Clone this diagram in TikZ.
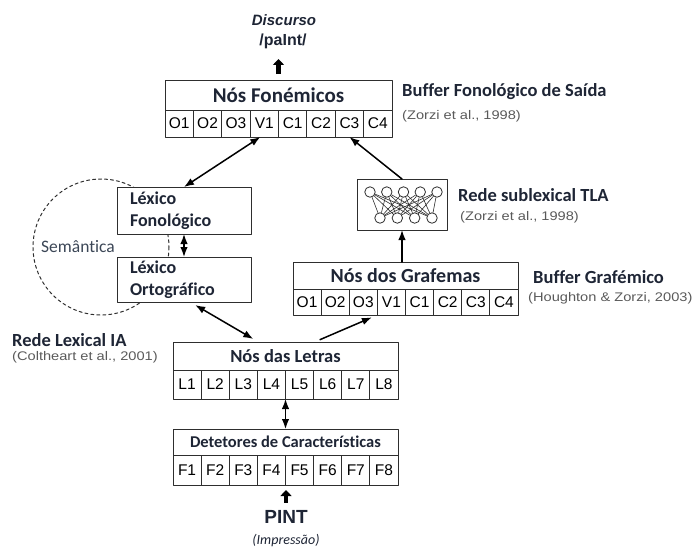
\documentclass[tikz,border=0pt]{standalone}
\usepackage{fontspec}
\setmainfont{Carlito}[Ligatures=NoCommon]
\newfontfamily\arialfont{Liberation Sans}
\newfontfamily\citefont{Liberation Sans}[FakeStretch=1.17]
\usetikzlibrary{arrows.meta}
\definecolor{drInk}{HTML}{1E2535}
\definecolor{drRef}{HTML}{5A5A5A}
\definecolor{drLine}{HTML}{2E2E2E}
\definecolor{drSem}{HTML}{3B4656}
\tikzset{
  dr diagram/.style={text=drInk, line cap=round, line join=round},
  dr box/.style={draw=drLine, fill=white, line width=0.9pt, inner sep=0pt,
    outer sep=0pt, font=\fontsize{20}{23}\selectfont\bfseries},
  dr cell/.style={dr box, font=\arialfont\fontsize{15.5}{18}\selectfont, text=black},
  dr lexbox/.style={dr box, align=left, text width=108pt, inner xsep=13pt,
    font=\fontsize{18}{22}\selectfont\bfseries},
  dr title/.style={anchor=west, inner sep=0pt, font=\fontsize{18.5}{21}\selectfont\bfseries},
  dr cite/.style={anchor=west, inner sep=0pt, text=drRef,
    font=\citefont\fontsize{12.5}{15}\selectfont},
  dr arrow/.style={-{Latex[length=10pt,width=7.5pt]}, draw=black, line width=1.5pt},
  dr both/.style={dr arrow, {Latex[length=10pt,width=7.5pt]}-{Latex[length=10pt,width=7.5pt]}},
  dr block/.style={-{Triangle[length=6pt,width=11pt]}, line width=4.5pt, line cap=butt},
  dr semantic/.style={draw=drLine, dashed, line width=1pt},
  dr unit/.style={circle, draw=drLine, fill=white, line width=0.8pt,
    minimum size=10.5pt, inner sep=0pt},
  dr link/.style={draw=drLine, line width=0.6pt}
}
\begin{document}
\begin{tikzpicture}[dr diagram,x=1pt,y=-1pt]
\useasboundingbox (0,0) rectangle (695,550);
% semantic loop behind the lexicons
\draw[dr semantic] (101,247) circle (68);
\node[font=\fontsize{17.5}{20}\selectfont, text=drSem] (semantica) at (78,247) {Semântica};

% output: phonemic buffer
\node[font=\arialfont\fontsize{15}{18}\selectfont\bfseries\itshape] (discurso) at (284,20) {Discurso};
\node[font=\arialfont\fontsize{16}{18}\selectfont\bfseries] (palnt) at (283,41) {/paInt/};
\node[dr box, minimum width=227pt, minimum height=30pt, font=\fontsize{21}{24}\selectfont\bfseries]
  (fon) at (278.5,95) {Nós Fonémicos};
\foreach \lbl [count=\i] in {O1,O2,O3,V1,C1,C2,C3,C4}
  \node[dr cell, minimum width=28.375pt, minimum height=27pt] (fon-\i)
    at ({165+28.375*(\i-0.5)},123.5) {\lbl};
\node[dr title] (buffon) at (402,92) {Buffer Fonológico de Saída};
\node[dr cite] (zorzi1) at (402,116) {(Zorzi et al., 1998)};

% lexical route
\node[dr lexbox, minimum height=47pt] (lexfon) at (184,210.5) {Léxico\\Fonológico};
\node[dr lexbox, minimum height=45pt] (lexort) at (184,279.5) {Léxico\\Ortográfico};
\node[dr title] (redeia) at (12,340) {Rede Lexical IA};
\node[dr cite] (coltheart) at (12,357) {(Coltheart et al., 2001)};

% sublexical route
\node[dr box, minimum width=90pt, minimum height=51pt] (tla) at (402,204.5) {};
\foreach \i in {1,...,5}
  \node[dr unit] (up-\i) at ({370+16.75*(\i-1)},192) {};
\foreach \j in {1,...,4}
  \node[dr unit] (dn-\j) at ({380+17.33*(\j-1)},218) {};
\foreach \i in {1,...,5}
  \foreach \j in {1,...,4}
    \draw[dr link] (up-\i) -- (dn-\j);
\node[dr title] (redetla) at (458,195) {Rede sublexical TLA};
\node[dr cite] (zorzi2) at (460,217) {(Zorzi et al., 1998)};

\node[dr box, minimum width=225pt, minimum height=27pt] (graf) at (405.5,275.5) {Nós dos Grafemas};
\foreach \lbl [count=\i] in {O1,O2,O3,V1,C1,C2,C3,C4}
  \node[dr cell, minimum width=28.125pt, minimum height=26pt] (graf-\i)
    at ({293+28.125*(\i-0.5)},302) {\lbl};
\node[dr title] (bufgraf) at (533,277) {Buffer Grafémico};
\node[dr cite] (houghton) at (528,298) {(Houghton \& Zorzi, 2003)};

% input: letters and features
\node[dr box, minimum width=225pt, minimum height=28pt, font=\fontsize{18.5}{22}\selectfont\bfseries]
  (let) at (285.5,356) {Nós das Letras};
\foreach \lbl [count=\i] in {L1,L2,L3,L4,L5,L6,L7,L8}
  \node[dr cell, minimum width=28.125pt, minimum height=29pt] (let-\i)
    at ({173+28.125*(\i-0.5)},384.5) {\lbl};
\node[dr box, minimum width=225pt, minimum height=26pt, font=\fontsize{16.5}{19}\selectfont\bfseries]
  (det) at (285.5,442) {Detetores de Características};
\foreach \lbl [count=\i] in {F1,F2,F3,F4,F5,F6,F7,F8}
  \node[dr cell, minimum width=28.125pt, minimum height=30pt] (det-\i)
    at ({173+28.125*(\i-0.5)},470) {\lbl};
\node[font=\arialfont\fontsize{19}{21}\selectfont\bfseries] (pint) at (286,517) {PINT};
\node[font=\fontsize{14}{17}\selectfont\itshape] (impressao) at (286,541) {(Impressão)};

% connections
\draw[dr block, shorten <=6pt, shorten >=7pt] (fon.north) -- (fon.north |- palnt.south);
\draw[dr both] ([xshift=-4pt]fon-4.south) -- (lexfon.north);
\draw[dr arrow] (tla.north) -- (fon-7.south);
\draw[dr both] (lexfon.south) -- (lexort.north);
\draw[dr arrow] (graf.north -| tla.south) -- (tla.south);
\draw[dr both, shorten <=6pt, shorten >=6pt] ([xshift=6pt]lexort.south) -- ([xshift=-27pt]let.north);
\draw[dr arrow, shorten <=6pt, shorten >=6pt] ([xshift=29pt]let.north) -- (graf-4.south west);
\draw[dr both] (let-4.south east) -- (det.north);
\draw[dr block, shorten <=4pt, shorten >=5pt] (pint.north) -- (pint.north |- det-4.south east);
\end{tikzpicture}
\end{document}
